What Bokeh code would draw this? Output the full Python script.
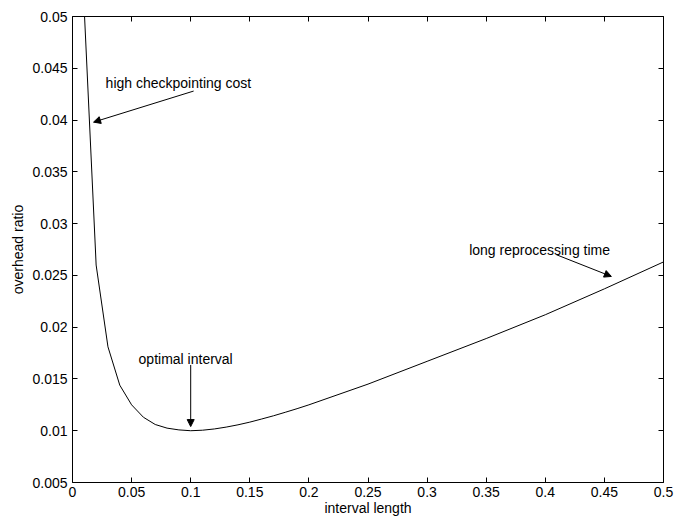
from bokeh.plotting import figure
from bokeh.models import (Range1d, FixedTicker, LinearAxis, Arrow, NormalHead, Label)
from bokeh.embed import file_html
from bokeh.resources import INLINE

# Data
interval_length = [0.01, 0.02, 0.03, 0.04, 0.05, 0.06, 0.07, 0.08, 0.09, 0.10,
                   0.11, 0.12, 0.13, 0.14, 0.15, 0.16, 0.17, 0.18, 0.19, 0.20,
                   0.25, 0.30, 0.35, 0.40, 0.45, 0.50]
overhead_ratio = [0.0505, 0.0260, 0.0181, 0.0144, 0.0125, 0.0113, 0.0106, 0.01025, 0.01008, 0.0100,
                  0.01005, 0.01017, 0.01035, 0.01057, 0.01083, 0.01113, 0.01144, 0.01178, 0.01213, 0.0125,
                  0.0145, 0.0167, 0.0189, 0.0212, 0.0237, 0.0263]

x_ticks = [0, 0.05, 0.1, 0.15, 0.2, 0.25, 0.3, 0.35, 0.4, 0.45, 0.5]
x_tick_labels = ["0", "0.05", "0.1", "0.15", "0.2", "0.25", "0.3", "0.35", "0.4", "0.45", "0.5"]
y_ticks = [0.005, 0.01, 0.015, 0.02, 0.025, 0.03, 0.035, 0.04, 0.045, 0.05]
y_tick_labels = ["0.005", "0.01", "0.015", "0.02", "0.025", "0.03", "0.035", "0.04", "0.045", "0.05"]

FONT = "Liberation Sans"
FS = "14px"

p = figure(width=674, height=518, output_backend="svg", toolbar_location=None,
           x_range=Range1d(0, 0.5), y_range=Range1d(0.005, 0.05),
           min_border_left=72, min_border_right=11, min_border_top=16, min_border_bottom=36,
           background_fill_color="white", border_fill_color="white")
p.xgrid.visible = False
p.ygrid.visible = False
p.outline_line_color = None

p.line(interval_length, overhead_ratio, line_color="black", line_width=1)

def style_axis(ax, ticks, labels, show_labels=True):
    ax.ticker = FixedTicker(ticks=ticks)
    ax.major_label_overrides = {t: l for t, l in zip(ticks, labels)}
    ax.major_tick_in = 5
    ax.major_tick_out = 0
    ax.minor_tick_line_color = None
    ax.axis_line_color = "black"
    ax.major_tick_line_color = "black"
    ax.major_label_text_font = FONT
    ax.major_label_text_font_size = FS
    ax.major_label_text_color = "black" if show_labels else None
    ax.major_label_standoff = 5
    ax.axis_label_text_font = FONT
    ax.axis_label_text_font_size = FS
    ax.axis_label_text_font_style = "normal"
    ax.axis_label_text_color = "black"

style_axis(p.xaxis[0], x_ticks, x_tick_labels)
style_axis(p.yaxis[0], y_ticks, y_tick_labels)
p.yaxis[0].axis_label = "overhead ratio"
p.yaxis[0].axis_label_standoff = 3
p.xaxis[0].axis_label = "interval length"
p.xaxis[0].major_label_standoff = 4
p.xaxis[0].axis_label_standoff = 0

top = LinearAxis()
style_axis(top, x_ticks, x_tick_labels, show_labels=False)
top.major_label_text_font_size = "0px"
top.major_label_standoff = 0
p.add_layout(top, "above")
right = LinearAxis()
style_axis(right, y_ticks, y_tick_labels, show_labels=False)
right.major_label_text_font_size = "0px"
right.major_label_standoff = 0
p.add_layout(right, "right")

def arrow(x0, y0, x1, y1):
    p.add_layout(Arrow(end=NormalHead(size=7, fill_color="black", line_color="black", line_width=1),
                       x_start=x0, y_start=y0, x_end=x1, y_end=y1,
                       line_color="black", line_width=1))

def note(x, y, t):
    p.add_layout(Label(x=x, y=y, text=t, text_font=FONT, text_font_size=FS,
                       text_align="left", text_baseline="alphabetic", text_color="black"))

note(0.028, 0.0436, "high checkpointing cost")
arrow(0.1025, 0.0428, 0.0178, 0.0398)
note(0.0559, 0.0169, "optimal interval")
arrow(0.1, 0.01635, 0.1, 0.0104)
note(0.3356, 0.0275, "long reprocessing time")
arrow(0.4093, 0.0270, 0.4559, 0.0249)

open("out.html", "w").write(file_html(p, INLINE))
